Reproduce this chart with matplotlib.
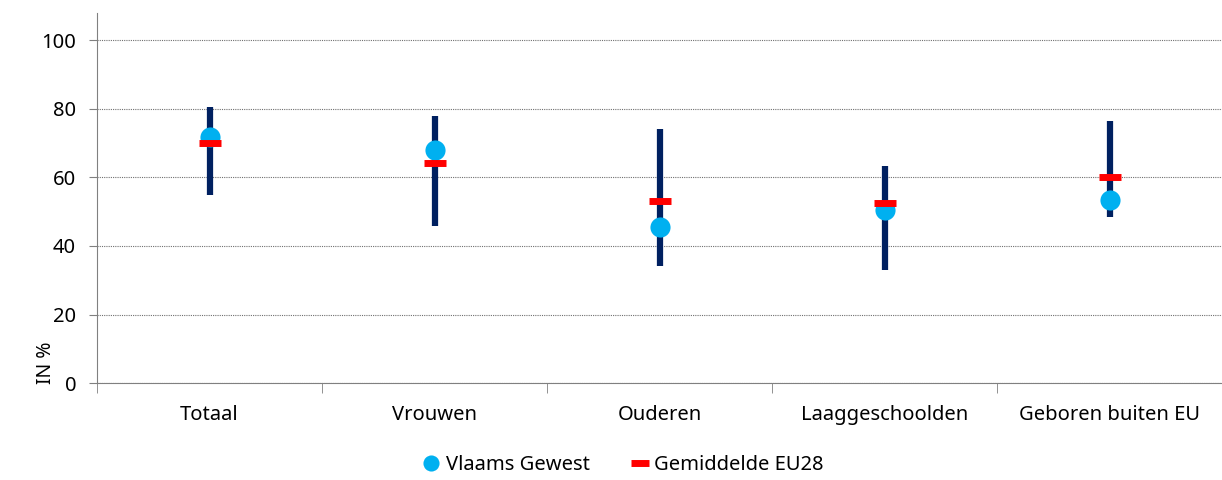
import numpy as np
import matplotlib.pyplot as plt

plt.rcParams['font.family'] = ['Noto Sans', 'DejaVu Sans']

# categories and values (in %)
categories = ["Totaal", "Vrouwen", "Ouderen", "Laaggeschoolden", "Geboren buiten EU"]
range_low = [54.8, 45.9, 34.2, 33.0, 48.5]
range_high = [80.5, 78.0, 74.2, 63.2, 76.6]
vlaams = [71.7, 68.0, 45.4, 50.5, 53.5]
eu28 = [70.0, 64.1, 53.2, 52.4, 60.2]

fig = plt.figure(figsize=(12.22, 4.8), dpi=100)
ax = fig.add_axes([0.0794, 0.202, 0.9206, 0.771])

x = np.arange(len(categories))

# min-max range bars
ax.vlines(x, range_low, range_high, colors="#002060", linewidth=4.5, zorder=2)
ax.plot(x, vlaams, linestyle="none", marker="o", markersize=14.5,
        color="#00B0F0", markeredgewidth=0, zorder=3, label="Vlaams Gewest")
ax.plot(x, eu28, linestyle="none", marker="_", markersize=16, markeredgewidth=5,
        color="#FF0000", zorder=4, label="Gemiddelde EU28")

ax.set_xlim(-0.5, len(categories) - 0.5)
ax.set_ylim(0, 108)
ax.set_yticks(range(0, 101, 20))
ax.yaxis.grid(True, linestyle=(0, (1, 1)), color="#707070", linewidth=0.8)
ax.set_axisbelow(True)

ax.set_xticks(x)
ax.set_xticklabels(categories, fontsize=14.5)
ax.tick_params(axis="x", which="major", length=0, pad=16)
ax.set_xticks(np.arange(-0.5, len(categories), 1), minor=True)
ax.tick_params(axis="x", which="minor", length=7, color="#808080")
ax.tick_params(axis="y", labelsize=14.5, length=6, color="#808080", pad=9)

for side in ["top", "right"]:
    ax.spines[side].set_visible(False)
ax.spines["left"].set_color("#808080")
ax.spines["bottom"].set_color("#808080")

fig.text(0.038, 0.2, "IN %", rotation=90, va="bottom", ha="center", fontsize=14)

ax.legend(loc="upper center", bbox_to_anchor=(0.467, -0.145), ncol=2, frameon=False,
          fontsize=14.5, handlelength=1.0, handletextpad=0.2, columnspacing=2.0,
          markerscale=0.8)

fig.savefig("out.png", dpi=100)
